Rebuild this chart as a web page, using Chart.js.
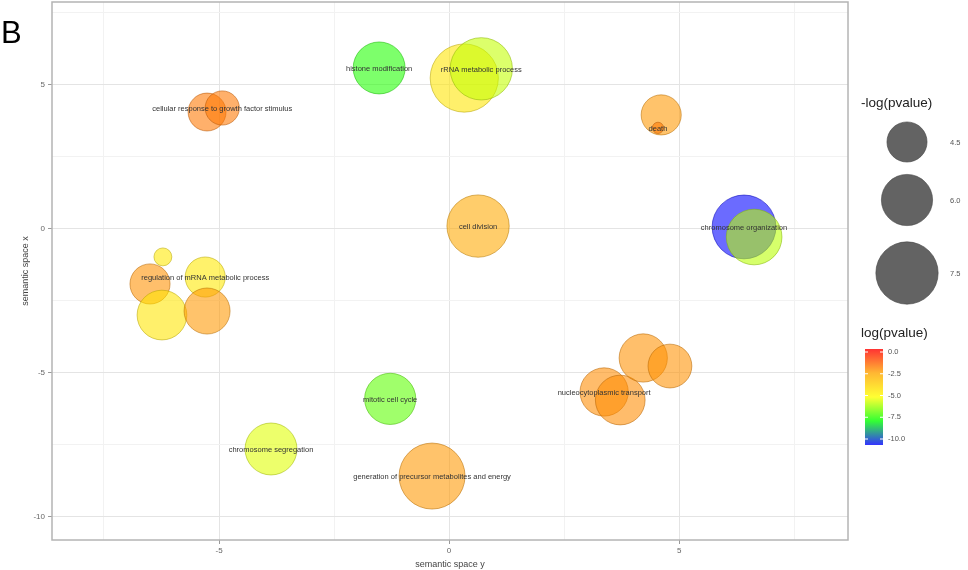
<!DOCTYPE html>
<html>
<head>
<meta charset="utf-8">
<script src="https://cdn.jsdelivr.net/npm/chart.js@4"></script>
<style>
  html, body { margin: 0; padding: 0; background: #ffffff; }
  #wrap { width: 968px; height: 570px; position: relative; }
  canvas { display: block; }
</style>
</head>
<body>
<div id="wrap"><canvas id="c" width="968" height="570"></canvas></div>
<script>
// ---- data ----
const termLabels = [
  "histone modification", "", "rRNA metabolic process", "cell division",
  "", "cellular response to growth factor stimulus",
  "", "", "regulation of mRNA metabolic process", "", "",
  "chromosome segregation", "mitotic cell cycle",
  "generation of precursor metabolites and energy",
  "nucleocytoplasmic transport", "", "", "",
  "", "death",
  "chromosome organization", ""
];
const semX = [-1.52, 0.33, 0.70, 0.63, -5.26, -4.93, -6.22, -6.50, -5.30, -6.24, -5.26,
              -3.87, -1.28, -0.37, 3.37, 3.72, 4.22, 4.80, 4.61, 4.54, 6.41, 6.63];
const semY = [5.59, 5.24, 5.56, 0.10, 4.06, 4.20, -0.97, -1.91, -1.67, -2.99, -2.85,
              -7.64, -5.90, -8.58, -5.66, -5.94, -4.48, -4.76, 3.96, 3.51, 0.07, -0.28];
const negLogP = [6.1, 8.3, 7.5, 7.5, 4.2, 3.7, 1.5, 4.5, 4.5, 5.8, 5.3,
                 6.1, 6.0, 8.0, 5.6, 5.8, 5.6, 5.0, 4.5, 0.6, 7.7, 6.6];
const logP = [-7.2, -4.3, -5.6, -2.6, -1.8, -1.8, -4.4, -2.2, -4.4, -4.3, -2.3,
              -5.3, -6.6, -2.3, -2.1, -2.1, -2.2, -2.2, -2.3, -1.8, -10.0, -5.7];
const xTicks = [-5, 0, 5];
const yTicks = [5, 0, -5, -10];
const sizeLegendValues = [4.5, 6.0, 7.5];
const colorLegendValues = [0.0, -2.5, -5.0, -7.5, -10.0];

// ---- styling helpers ----
const colorStops = [[-10, [0, 0, 255]], [-7.5, [0, 255, 0]], [-5, [255, 255, 0]], [-2.5, [255, 165, 0]], [0, [255, 0, 0]]];
function rgbFor(v) {
  if (v <= colorStops[0][0]) return colorStops[0][1];
  for (let i = 1; i < colorStops.length; i++) {
    if (v <= colorStops[i][0]) {
      const [a, ca] = colorStops[i - 1], [b, cb] = colorStops[i];
      const t = (v - a) / (b - a);
      return ca.map((c, k) => Math.round(c + (cb[k] - c) * t));
    }
  }
  return colorStops[colorStops.length - 1][1];
}
function fillFor(v) { const c = rgbFor(v); return `rgba(${c[0]},${c[1]},${c[2]},0.58)`; }
function edgeFor(v) { const c = rgbFor(v).map(x => Math.round(x * 0.72)); return `rgba(${c[0]},${c[1]},${c[2]},0.55)`; }
function radiusOf(s) { return 3.7 * s + 3.4; }
const isMajor = v => Math.abs(v / 5 - Math.round(v / 5)) < 1e-6;
const isGrid = v => Math.abs(v / 2.5 - Math.round(v / 2.5)) < 1e-6;

const points = semX.map((x, i) => ({ x: x, y: semY[i], r: radiusOf(negLogP[i]) }));

const frameAndLabels = {
  id: 'frameAndLabels',
  afterDatasetsDraw(chart) {
    const ctx = chart.ctx, xs = chart.scales.x, ys = chart.scales.y, a = chart.chartArea;
    ctx.save();
    ctx.font = '7.5px "Liberation Sans", Arial, sans-serif';
    ctx.fillStyle = '#333333';
    ctx.textAlign = 'center';
    ctx.textBaseline = 'middle';
    termLabels.forEach((t, i) => {
      if (!t) return;
      ctx.fillText(t, xs.getPixelForValue(semX[i]), ys.getPixelForValue(semY[i]) + 1);
    });
    ctx.strokeStyle = '#b4b4b4';
    ctx.lineWidth = 1.5;
    ctx.strokeRect(a.left, a.top, a.right - a.left, a.bottom - a.top);
    ctx.restore();
  },
  afterDraw(chart) {
    const ctx = chart.ctx;
    ctx.save();
    ctx.fillStyle = '#000';
    ctx.font = '31px "Liberation Sans", Arial, sans-serif';
    ctx.textAlign = 'left';
    ctx.textBaseline = 'alphabetic';
    ctx.fillText('B', 1, 43);
    ctx.fillStyle = '#222';
    ctx.font = '13.5px "Liberation Sans", Arial, sans-serif';
    ctx.textBaseline = 'middle';
    ctx.fillText('-log(pvalue)', 861, 103);
    const sizeY = [142, 200, 273];
    sizeLegendValues.forEach((v, i) => {
      ctx.beginPath();
      ctx.arc(907, sizeY[i], radiusOf(v), 0, Math.PI * 2);
      ctx.fillStyle = '#636363';
      ctx.fill();
      ctx.strokeStyle = 'rgba(70,70,70,0.6)';
      ctx.lineWidth = 1;
      ctx.stroke();
      ctx.fillStyle = '#555';
      ctx.font = '7.5px "Liberation Sans", Arial, sans-serif';
      ctx.fillText(v.toFixed(1), 950, sizeY[i] + 1);
    });
    ctx.fillStyle = '#222';
    ctx.font = '13.5px "Liberation Sans", Arial, sans-serif';
    ctx.fillText('log(pvalue)', 861, 333);
    const barTop = 349, barBot = 445, barX = 865, barW = 18;
    const g = ctx.createLinearGradient(0, barTop, 0, barBot);
    colorStops.slice().reverse().forEach(([v, c]) => {
      g.addColorStop((0 - v) / 10, `rgb(${c[0]},${c[1]},${c[2]})`);
    });
    ctx.fillStyle = g;
    ctx.globalAlpha = 0.8;
    ctx.fillRect(barX, barTop, barW, barBot - barTop);
    ctx.globalAlpha = 1;
    ctx.font = '7.5px "Liberation Sans", Arial, sans-serif';
    colorLegendValues.forEach(v => {
      const y = 352 + (0 - v) / 10 * (439 - 352);
      ctx.fillStyle = '#fff';
      ctx.fillRect(barX, y - 0.5, 3, 1);
      ctx.fillRect(barX + barW - 3, y - 0.5, 3, 1);
      ctx.fillStyle = '#555';
      ctx.fillText(v.toFixed(1), 888, y);
    });
    ctx.restore();
  }
};

function gridOpts() {
  return {
    color: c => (c.tick && isMajor(c.tick.value)) ? '#e4e4e4' : '#f2f2f2',
    lineWidth: 1,
    drawTicks: true,
    tickLength: 4,
    tickColor: c => (c.tick && isMajor(c.tick.value)) ? '#999' : 'rgba(0,0,0,0)'
  };
}

new Chart(document.getElementById('c'), {
  type: 'bubble',
  data: {
    datasets: [{
      data: points,
      backgroundColor: logP.map(fillFor),
      borderColor: logP.map(edgeFor),
      borderWidth: 1,
      hoverRadius: 0,
      hoverBorderWidth: 1
    }]
  },
  options: {
    responsive: false,
    animation: false,
    devicePixelRatio: 1,
    events: [],
    layout: { autoPadding: false, padding: { top: 2, right: 120, left: 0, bottom: 0 } },
    plugins: { legend: { display: false }, tooltip: { enabled: false } },
    scales: {
      x: {
        type: 'linear', min: -8.63, max: 8.67,
        afterBuildTicks: s => { s.ticks = s.ticks.filter(t => isGrid(t.value)); },
        afterFit: s => { s.height = 30; s.paddingLeft = 0; s.paddingRight = 0; },
        ticks: {
          stepSize: 2.5, autoSkip: false, maxRotation: 0, padding: 2,
          color: '#666', font: { size: 8, family: '"Liberation Sans", Arial, sans-serif' },
          callback: v => xTicks.includes(v) ? String(v) : ''
        },
        grid: gridOpts(),
        border: { display: false },
        title: { display: true, text: 'semantic space y', color: '#444',
                 font: { size: 9, family: '"Liberation Sans", Arial, sans-serif' }, padding: { top: 3, bottom: 0 } }
      },
      y: {
        type: 'linear', min: -10.8, max: 7.88,
        afterBuildTicks: s => { s.ticks = s.ticks.filter(t => isGrid(t.value)); },
        afterFit: s => { s.width = 52; s.paddingTop = 0; s.paddingBottom = 0; },
        ticks: {
          stepSize: 2.5, autoSkip: false, padding: 3,
          color: '#666', font: { size: 8, family: '"Liberation Sans", Arial, sans-serif' },
          callback: v => yTicks.includes(v) ? String(v) : ''
        },
        grid: gridOpts(),
        border: { display: false },
        title: { display: true, text: 'semantic space x', color: '#444',
                 font: { size: 9, family: '"Liberation Sans", Arial, sans-serif' }, padding: { top: 20, bottom: 0 } }
      }
    }
  },
  plugins: [frameAndLabels]
});
</script>
</body>
</html>
